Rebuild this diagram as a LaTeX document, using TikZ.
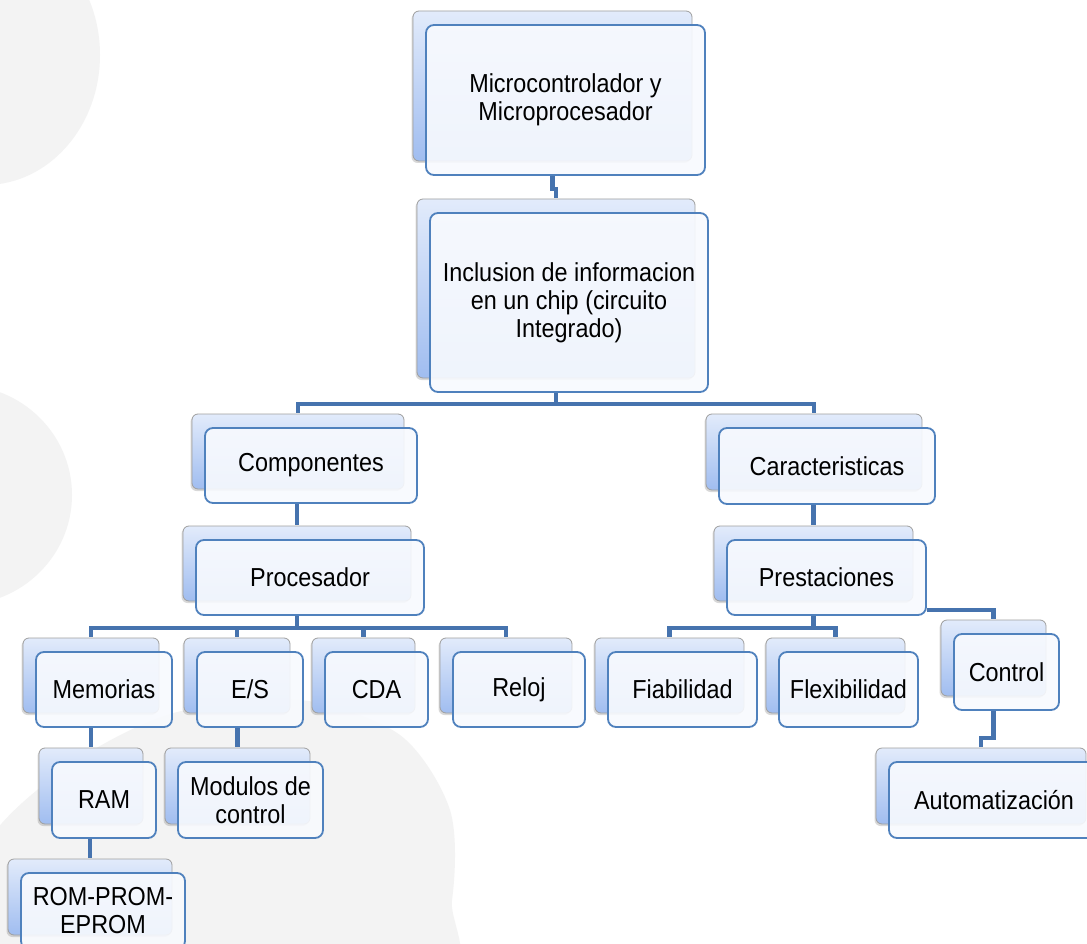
\documentclass[tikz,border=0pt]{standalone}
\usepackage{fontspec}
\newfontfamily\boxfont[FakeStretch=0.9]{Liberation Sans}
\usetikzlibrary{calc,shadows}

\definecolor{edgeblue}{HTML}{4F81BD}
\definecolor{linkblue}{HTML}{4673AE}
\definecolor{paneltop}{HTML}{E2EBFB}
\definecolor{panelbot}{HTML}{A0BDF0}
\definecolor{facefill}{HTML}{F8FAFE}
\definecolor{blobgray}{HTML}{F3F3F3}

\pgfdeclarelayer{backdrop}
\pgfdeclarelayer{links}
\pgfsetlayers{backdrop,links,main}

\tikzset{
  face/.style={draw=edgeblue, line width=1.8pt, rounded corners=8pt,
    fill=facefill, fill opacity=0.9, text opacity=1, align=center,
    font=\boxfont\fontsize{26}{28}\selectfont, inner sep=0pt},
  panel/.style={draw=gray!75, line width=0.8pt, rounded corners=6pt,
    top color=paneltop, bottom color=panelbot,
    drop shadow={shadow xshift=-1.5pt, shadow yshift=-2pt, opacity=0.3}},
  link/.style={draw=linkblue, line width=4.5pt},
  blob/.style={fill=blobgray, draw=none},
}

% A card: shaded panel behind, named face in front.
% #1 name, #2..#5 face corners (x1,y1,x2,y2), #6 text
\newcommand\card[6]{%
  \path[panel] ({#2-13},{#3-14}) rectangle ({#4-13},{#5-14});
  \node[face, minimum width={(#4-#2)*1pt}, minimum height={(#5-#3)*1pt}]
    (#1) at ({(#2+#4)/2},{(#3+#5)/2}) {#6};
}
% Elbow link from a parent's bottom to a child's panel top
\newcommand\elbow[3]{%
  \draw[link] ($(#1.south)+(-13,0)$) -- ++(0,#3) -| ($(#2.north)+(-13,-14)$);
}
% Straight drop from a parent's bottom to the child's panel top
\newcommand\drop[2]{%
  \path ($(#2.north)+(-13,-14)$) coordinate (droptop);
  \draw[link] (droptop |- #1.south) -- (droptop);
}

\begin{document}
\begin{tikzpicture}[x=1pt,y=-1pt]
\useasboundingbox (0,0) rectangle (1087,944);

\begin{pgfonlayer}{backdrop}
  \fill[white] (0,0) rectangle (1087,944);
  % soft background shapes
  \fill[blob] (-15,55) ellipse [x radius=115, y radius=130];
  \fill[blob] (-40,495) ellipse [x radius=112, y radius=110];
  \fill[blob] plot[smooth cycle] coordinates {(-20,860) (60,772) (170,714) (300,700)
    (400,735) (450,810) (452,900) (425,990) (0,1010)};
\end{pgfonlayer}

% cards
\card{mc}{426}{25}{705}{175}{Microcontrolador y\\Microprocesador}
\card{inc}{430}{213}{708}{392}{Inclusion de informacion\\en un chip (circuito\\Integrado)}
\card{comp}{205}{428}{417}{503}{Componentes}
\card{car}{719}{428}{935}{504}{Caracteristicas}
\card{proc}{196}{540}{424}{615}{Procesador}
\card{prest}{727}{540}{926}{615}{Prestaciones}
\card{mem}{36}{652}{172}{727}{Memorias}
\card{es}{197}{652}{303}{727}{E/S}
\card{cda}{325}{652}{428}{727}{CDA}
\card{reloj}{453}{652}{585}{727}{Reloj}
\card{fiab}{608}{652}{757}{727}{Fiabilidad}
\card{flex}{779}{652}{918}{727}{Flexibilidad}
\card{ctrl}{954}{634}{1059}{710}{Control}
\card{ram}{52}{762}{156}{838}{RAM}
\card{mods}{178}{762}{323}{838}{Modulos de\\control}
\card{rom}{21}{873}{185}{949}{ROM-PROM-\\EPROM}
\card{auto}{889}{762}{1099}{838}{Automatización}

% connectors, kept under the cards
\begin{pgfonlayer}{links}
  \elbow{mc}{inc}{13}
  \elbow{inc}{comp}{11}
  \elbow{inc}{car}{11}
  \drop{comp}{proc}
  \drop{car}{prest}
  \elbow{proc}{mem}{12}
  \elbow{proc}{es}{12}
  \elbow{proc}{cda}{12}
  \elbow{proc}{reloj}{12}
  \elbow{prest}{fiab}{12}
  \elbow{prest}{flex}{12}
  \draw[link] ($(prest.south east)+(0,-6)$) -| ($(ctrl.north)+(-13,-14)$);
  \elbow{ctrl}{auto}{27}
  \drop{mem}{ram}
  \drop{es}{mods}
  \drop{ram}{rom}
\end{pgfonlayer}
\end{tikzpicture}
\end{document}
